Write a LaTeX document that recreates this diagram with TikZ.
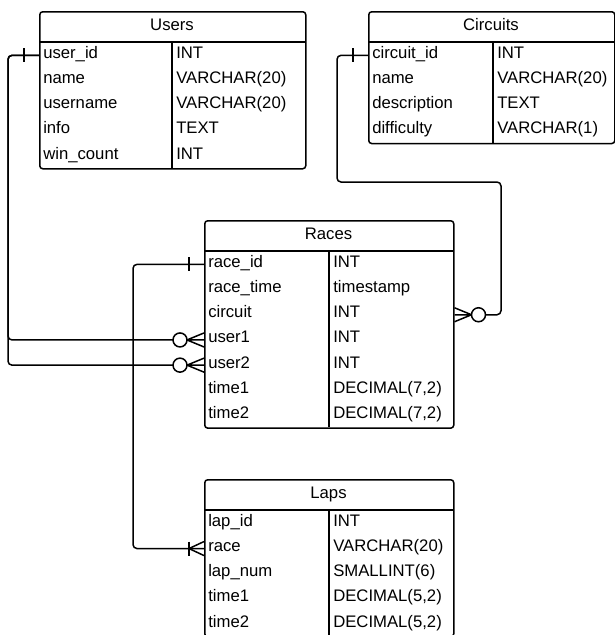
\documentclass[tikz,border=0pt]{standalone}
\usepackage{fontspec}
\setmainfont{Liberation Sans}
\usetikzlibrary{calc}
\newcommand\zmanyL[1]{%
  \draw ($(#1)+(-17,0)$) -- ($(#1)+(0,-7)$) ($(#1)+(-17,0)$) -- (#1) ($(#1)+(-17,0)$) -- ($(#1)+(0,7)$);
  \draw[fill=white] ($(#1)+(-24,0)$) circle[radius=7pt];}
\newcommand\zmanyR[1]{%
  \draw ($(#1)+(17,0)$) -- ($(#1)+(0,-7)$) ($(#1)+(17,0)$) -- (#1) ($(#1)+(17,0)$) -- ($(#1)+(0,7)$);
  \draw[fill=white] ($(#1)+(24,0)$) circle[radius=7pt];}
\newcommand\onetick[1]{%
  \draw ($(#1)+(-15,-7)$) -- ($(#1)+(-15,7)$);}
\newcommand\onemanyL[1]{%
  \draw ($(#1)+(-15,-7)$) -- ($(#1)+(-15,7)$);
  \draw ($(#1)+(-15,0)$) -- ($(#1)+(0,-7)$) ($(#1)+(-15,0)$) -- ($(#1)+(0,7)$);}
\begin{document}
\begin{tikzpicture}[x=1pt,y=-1pt,line width=1.5pt,
  font=\fontsize{16.7}{18}\selectfont,
  tbl/.style={draw,rounded corners=3pt,anchor=north west,inner sep=0pt},
  fld/.style={anchor=north west,inner xsep=3.5pt,inner ysep=0pt,minimum height=25.2pt,
    text height=9pt,text depth=3.2pt,align=left},
  hdr/.style={anchor=north,inner sep=0pt,minimum height=31pt,text height=10pt,text depth=3pt},
  conn/.style={rounded corners=4pt}]
\useasboundingbox (0,0) rectangle (615,635);
\clip (0,0) rectangle (615,635);

% ---------- Users ----------
\node[tbl,minimum width=266pt,minimum height=157pt] (usersbox) at (39,11) {};
\node[hdr] (users) at (172,11) {Users};
\draw (39,42) -- (305,42) (172,42) -- (172,168);
\foreach \n/\t [count=\i from 0] in {user\_id/INT,name/VARCHAR(20),username/VARCHAR(20),info/TEXT,win\_count/INT}{
  \node[fld,text width=126pt] (u\i) at (39,42+\i*25.2) {\n};
  \node[fld,text width=126pt] (ut\i) at (172,42+\i*25.2) {\t};
}

% ---------- Circuits ----------
\node[tbl,minimum width=246pt,minimum height=131.8pt] (circuitsbox) at (368,11) {};
\node[hdr] (circuits) at (491,11) {Circuits};
\draw (368,42) -- (614,42) (493,42) -- (493,142.8);
\foreach \n/\t [count=\i from 0] in {circuit\_id/INT,name/VARCHAR(20),description/TEXT,difficulty/VARCHAR(1)}{
  \node[fld,text width=118pt] (c\i) at (368,42+\i*25.2) {\n};
  \node[fld,text width=114pt] (ct\i) at (493,42+\i*25.2) {\t};
}

% ---------- Races ----------
\node[tbl,minimum width=249pt,minimum height=207.4pt] (racesbox) at (204,220) {};
\node[hdr] (races) at (328.5,220) {Races};
\draw (204,251) -- (453,251) (329,251) -- (329,427.4);
\foreach \n/\t [count=\i from 0] in {race\_id/INT,race\_time/timestamp,circuit/INT,user1/INT,user2/INT,time1/{DECIMAL(7,2)},time2/{DECIMAL(7,2)}}{
  \node[fld,text width=118pt] (r\i) at (204,251+\i*25.2) {\n};
  \node[fld,text width=117pt] (rt\i) at (329,251+\i*25.2) {\t};
}

% ---------- Laps ----------
\node[tbl,minimum width=249pt,minimum height=157pt] (lapsbox) at (204,479) {};
\node[hdr] (laps) at (328.5,479) {Laps};
\draw (204,510) -- (453,510) (329,510) -- (329,636);
\foreach \n/\t [count=\i from 0] in {lap\_id/INT,race/VARCHAR(20),lap\_num/SMALLINT(6),time1/{DECIMAL(5,2)},time2/{DECIMAL(5,2)}}{
  \node[fld,text width=118pt] (l\i) at (204,510+\i*25.2) {\n};
  \node[fld,text width=117pt] (lt\i) at (329,510+\i*25.2) {\t};
}

% ---------- Connectors ----------
\coordinate (cbend) at (501,182);
\draw[conn] (u0.west) -- ++(-31,0) |- ($(r3.west)+(-31,0)$);
\draw[conn] (u0.west) -- ++(-31,0) |- ($(r4.west)+(-31,0)$);
\onetick{u0.west}
\zmanyL{r3.west}
\zmanyL{r4.west}

\draw[conn] (c0.west) -- ++(-31,0) |- (cbend) |- ($(rt2.east)+(31,0)$);
\onetick{c0.west}
\zmanyR{rt2.east}

\draw[conn] (r0.west) -- ++(-71,0) |- (l1.west);
\onetick{r0.west}
\onemanyL{l1.west}
\end{tikzpicture}
\end{document}
